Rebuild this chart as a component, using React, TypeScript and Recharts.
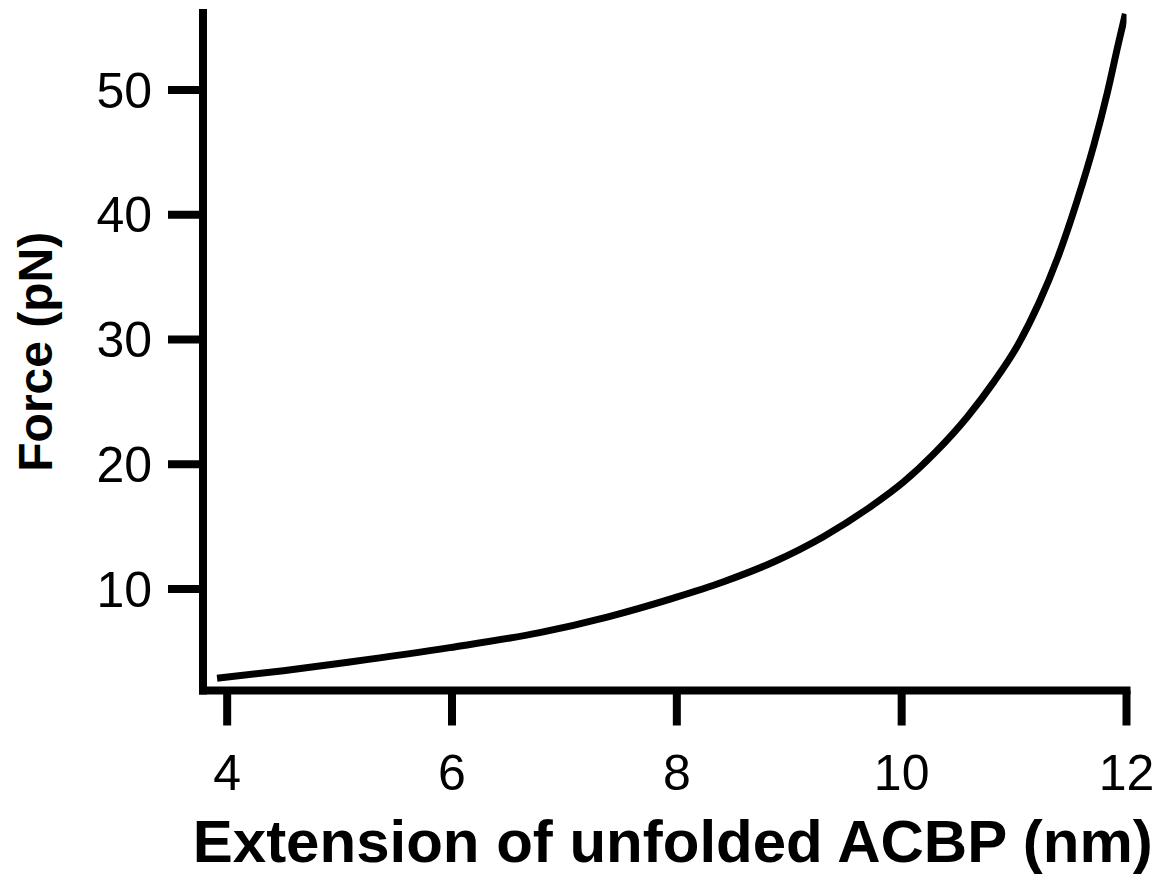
import React from 'react';
import { LineChart, Line, XAxis, YAxis, Label } from 'recharts';

// extension (nm) and force (pN)
const extension = [3.91, 4.5, 5.09, 5.98, 6.78, 7.38, 7.97, 8.41, 8.86, 9.3, 9.72, 10.02, 10.29, 10.58, 10.82, 11.03, 11.22, 11.39, 11.56, 11.71, 11.83, 11.93, 11.99];
const force = [2.85, 3.45, 4.15, 5.3, 6.5, 7.75, 9.27, 10.56, 12.16, 14.17, 16.57, 18.6, 20.87, 23.75, 26.6, 29.5, 32.9, 36.6, 41.1, 45.6, 49.8, 53.8, 56.1];

const xTicks = [4, 6, 8, 10, 12];
const yTicks = [10, 20, 30, 40, 50];

const FONT = '"Liberation Sans", Arial, Helvetica, sans-serif';

const data = extension.map((x, i) => ({ x, f: force[i] }));

const axisLine = { stroke: '#000', strokeWidth: 8, strokeLinecap: 'square' as const };
const tickLine = { stroke: '#000', strokeWidth: 8 };
const tickStyle = { fill: '#000', fontSize: 50, fontFamily: FONT };

export default function App() {
  return (
    <div style={{ position: 'absolute', left: 0, top: 0, background: '#fff' }}>
      <LineChart
        width={1169}
        height={878}
        data={data}
        margin={{ top: 13, right: 42.5, bottom: 0, left: 0 }}
      >
        <XAxis
          dataKey="x"
          type="number"
          domain={[3.785, 12]}
          ticks={xTicks}
          allowDataOverflow
          height={187.5}
          axisLine={axisLine}
          tickLine={tickLine}
          tickSize={35}
          tickMargin={29}
          tick={tickStyle}
        >
          <Label
            value="Extension of unfolded ACBP (nm)"
            position="insideBottom"
            offset={16}
            dx={8}
            fill="#000"
            fontSize={60}
            fontWeight="bold"
            fontFamily={FONT}
          />
        </XAxis>
        <YAxis
          type="number"
          domain={[1.86, 56.17]}
          ticks={yTicks}
          allowDataOverflow
          width={203}
          axisLine={axisLine}
          tickLine={tickLine}
          tickSize={35}
          tickMargin={16}
          tick={tickStyle}
        >
          <Label
            value="Force (pN)"
            angle={-90}
            position="insideLeft"
            offset={35}
            fill="#000"
            fontSize={48}
            fontWeight="bold"
            fontFamily={FONT}
            style={{ textAnchor: 'middle' }}
          />
        </YAxis>
        <Line
          type="monotone"
          dataKey="f"
          stroke="#000"
          strokeWidth={7}
          dot={false}
          activeDot={false}
          isAnimationActive={false}
        />
      </LineChart>
    </div>
  );
}
